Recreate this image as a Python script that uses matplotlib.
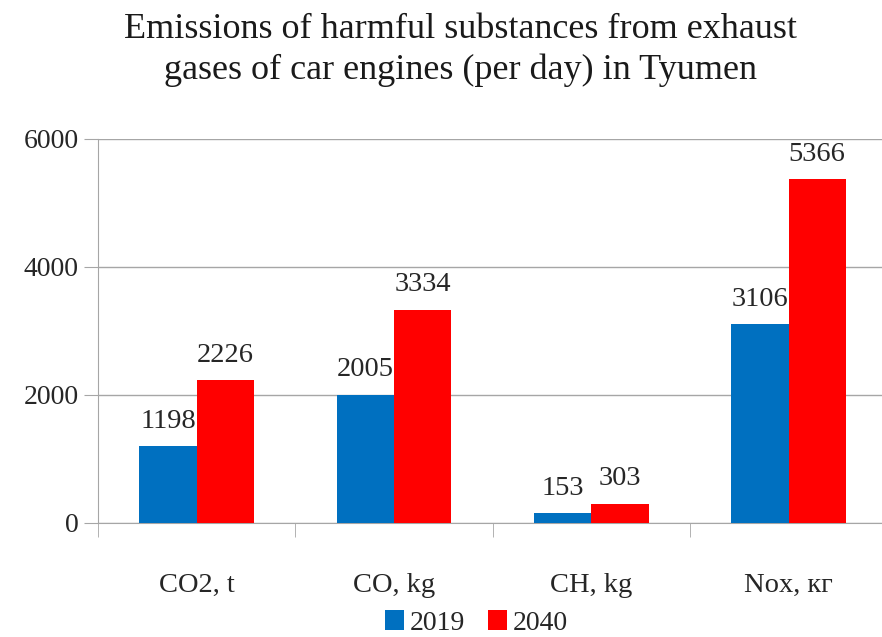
import numpy as np
import matplotlib.pyplot as plt

# Данные
categorias = ['CO2, t', 'CO, kg', 'CH, kg', 'Nox, кг']
valores_2019 = [1198, 2005, 153, 3106]
valores_2040 = [2226, 3334, 303, 5366]
series = ['2019', '2040']
colores = ['#0070C0', '#FF0000']

plt.rcParams['font.family'] = ['Liberation Serif', 'DejaVu Serif']

fig = plt.figure(figsize=(8.82, 6.37), dpi=100)
ax = fig.add_axes([0.111, 0.179, 0.895, 0.603])

x = np.arange(len(categorias))
ancho = 0.29
b1 = ax.bar(x - ancho / 2, valores_2019, ancho, color=colores[0], label=series[0], zorder=3)
b2 = ax.bar(x + ancho / 2, valores_2040, ancho, color=colores[1], label=series[1], zorder=3)

for barras in (b1, b2):
    ax.bar_label(barras, padding=9, fontsize=20.5, color='#262626')

ax.set_xlim(-0.5, len(categorias) - 0.5)
ax.set_ylim(0, 6000)
ax.set_yticks([0, 2000, 4000, 6000])
ax.set_xticks(x)
ax.set_xticklabels(categorias)
ax.set_xticks(np.arange(len(categorias) + 1) - 0.5, minor=True)
ax.tick_params(axis='x', which='major', length=0, pad=36, labelsize=20.5, labelcolor='#262626')
ax.tick_params(axis='x', which='minor', length=10, color='#a6a6a6', direction='out')
ax.tick_params(axis='y', length=10, color='#a6a6a6', labelsize=20, labelcolor='#262626', pad=4)

ax.grid(axis='y', color='#a6a6a6', linewidth=1, zorder=0)
for lado in ['top', 'right']:
    ax.spines[lado].set_visible(False)
ax.spines['left'].set_color('#a6a6a6')
ax.spines['bottom'].set_color('#a6a6a6')

fig.text(0.522, 0.922, 'Emissions of harmful substances from exhaust\ngases of car engines (per day) in Tyumen',
         ha='center', va='center', fontsize=26, color='#1a1a1a', linespacing=1.3)

fig.legend(handles=[b1, b2], labels=series, loc='center', bbox_to_anchor=(0.54, 0.022),
           ncol=2, frameon=False, fontsize=20, handlelength=0.7, handleheight=0.7,
           handletextpad=0.2, columnspacing=0.8, labelcolor='#262626')

plt.savefig('out.png')
